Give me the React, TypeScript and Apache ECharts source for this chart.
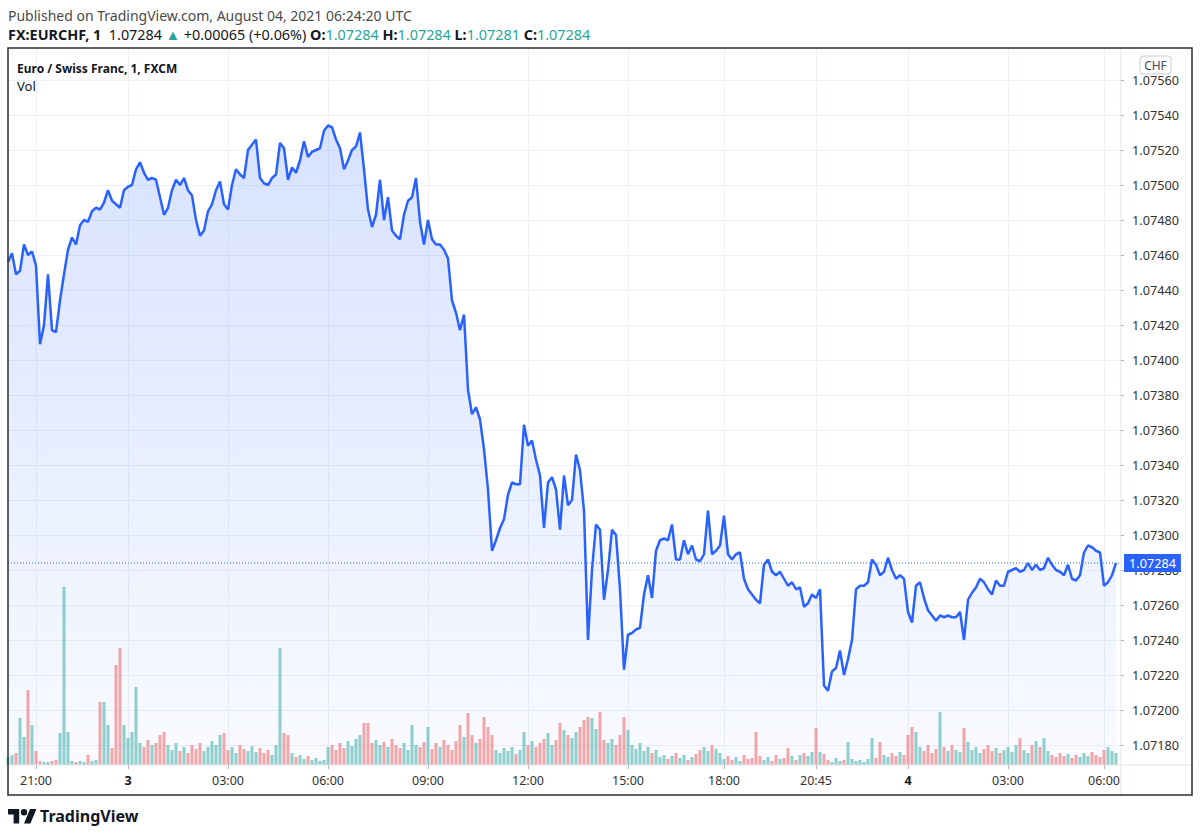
import React, { useEffect, useRef } from 'react';
import * as echarts from 'echarts';

// EUR/CHF 1-minute closes, sampled along the chart (oldest -> newest)
const prices = [
  1.07456, 1.07461, 1.07449, 1.07451, 1.07466, 1.07460, 1.07462, 1.07454, 1.07409, 1.07420,
  1.07449, 1.07417, 1.07416, 1.07434, 1.07449, 1.07463, 1.07470, 1.07466, 1.07477, 1.07480,
  1.07479, 1.07485, 1.07487, 1.07486, 1.07490, 1.07497, 1.07491, 1.07489, 1.07487, 1.07497,
  1.07499, 1.07500, 1.07509, 1.07513, 1.07507, 1.07503, 1.07504, 1.07503, 1.07493, 1.07483,
  1.07487, 1.07497, 1.07503, 1.07500, 1.07504, 1.07497, 1.07494, 1.07480, 1.07471, 1.07474,
  1.07485, 1.07489, 1.07497, 1.07502, 1.07489, 1.07486, 1.07500, 1.07509, 1.07506, 1.07504,
  1.07520, 1.07523, 1.07526, 1.07504, 1.07501, 1.07500, 1.07504, 1.07506, 1.07524, 1.07521,
  1.07503, 1.07510, 1.07507, 1.07514, 1.07525, 1.07516, 1.07519, 1.07520, 1.07521, 1.07531,
  1.07534, 1.07533, 1.07526, 1.07521, 1.07509, 1.07514, 1.07520, 1.07522, 1.07530, 1.07509,
  1.07486, 1.07476, 1.07483, 1.07503, 1.07480, 1.07493, 1.07474, 1.07471, 1.07469, 1.07483,
  1.07491, 1.07493, 1.07504, 1.07479, 1.07466, 1.07480, 1.07469, 1.07466, 1.07466, 1.07463,
  1.07458, 1.07434, 1.07427, 1.07417, 1.07426, 1.07383, 1.07369, 1.07373, 1.07366, 1.07349,
  1.07326, 1.07291, 1.07297, 1.07304, 1.07309, 1.07323, 1.07330, 1.07329, 1.07329, 1.07363,
  1.07351, 1.07354, 1.07343, 1.07334, 1.07304, 1.07330, 1.07333, 1.07326, 1.07303, 1.07334,
  1.07317, 1.07320, 1.07346, 1.07337, 1.07314, 1.07240, 1.07280, 1.07306, 1.07303, 1.07263,
  1.07280, 1.07303, 1.07300, 1.07269, 1.07223, 1.07243, 1.07244, 1.07246, 1.07247, 1.07266,
  1.07277, 1.07264, 1.07291, 1.07297, 1.07298, 1.07297, 1.07306, 1.07286, 1.07286, 1.07297,
  1.07289, 1.07294, 1.07286, 1.07285, 1.07289, 1.07314, 1.07289, 1.07291, 1.07294, 1.07311,
  1.07289, 1.07286, 1.07289, 1.07290, 1.07275, 1.07269, 1.07266, 1.07263, 1.07261, 1.07283,
  1.07286, 1.07279, 1.07277, 1.07279, 1.07275, 1.07271, 1.07273, 1.07269, 1.07270, 1.07259,
  1.07261, 1.07266, 1.07264, 1.07269, 1.07214, 1.07211, 1.07222, 1.07224, 1.07234, 1.07220,
  1.07229, 1.07240, 1.07269, 1.07271, 1.07271, 1.07273, 1.07286, 1.07283, 1.07277, 1.07279,
  1.07287, 1.07280, 1.07275, 1.07277, 1.07275, 1.07256, 1.07250, 1.07271, 1.07273, 1.07264,
  1.07257, 1.07254, 1.07251, 1.07254, 1.07253, 1.07254, 1.07253, 1.07253, 1.07256, 1.07240,
  1.07263, 1.07267, 1.07270, 1.07275, 1.07273, 1.07269, 1.07266, 1.07274, 1.07271, 1.07271,
  1.07279, 1.07280, 1.07281, 1.07279, 1.07280, 1.07284, 1.07280, 1.07283, 1.07280, 1.07281,
  1.07287, 1.07283, 1.07280, 1.07279, 1.07277, 1.07283, 1.07275, 1.07274, 1.07277, 1.07290,
  1.07294, 1.07293, 1.07291, 1.07290, 1.07271, 1.07273, 1.07277, 1.07284,
];

// Volume (relative units), one per sampled price point
const volumes = [
  8, 10, 12, 47, 28, 75, 40, 14, 4, 3,
  3, 4, 5, 32, 178, 33, 4, 3, 4, 3,
  10, 4, 5, 63, 63, 40, 17, 100, 117, 40,
  27, 33, 78, 22, 18, 25, 20, 22, 30, 33,
  20, 15, 22, 14, 18, 12, 20, 16, 22, 14,
  18, 24, 20, 30, 32, 15, 18, 12, 20, 16,
  14, 19, 13, 17, 12, 15, 10, 20, 117, 32,
  30, 12, 8, 10, 6, 9, 5, 7, 4, 5,
  18, 20, 15, 22, 17, 24, 19, 26, 30, 42,
  42, 22, 25, 20, 23, 18, 26, 20, 17, 22,
  15, 40, 20, 18, 23, 38, 16, 22, 18, 25,
  20, 15, 24, 40, 28, 52, 30, 22, 26, 48,
  38, 30, 15, 12, 17, 14, 18, 11, 15, 33,
  20, 24, 18, 22, 26, 32, 20, 25, 42, 35,
  30, 27, 33, 38, 45, 48, 47, 36, 53, 25,
  22, 26, 20, 30, 48, 35, 20, 16, 22, 14,
  18, 12, 15, 8, 10, 6, 9, 12, 7, 10,
  5, 8, 11, 15, 18, 14, 20, 16, 12, 6,
  9, 5, 8, 4, 10, 6, 7, 33, 9, 5,
  8, 4, 10, 6, 7, 17, 9, 5, 10, 12,
  9, 13, 37, 13, 11, 5, 3, 7, 4, 5,
  23, 6, 4, 5, 3, 6, 27, 7, 23, 10,
  8, 12, 9, 13, 10, 30, 38, 33, 18, 14,
  20, 12, 16, 53, 18, 14, 20, 15, 13, 37,
  23, 15, 18, 12, 16, 20, 14, 17, 12, 15,
  18, 13, 20, 27, 15, 12, 20, 24, 18, 27,
  14, 10, 8, 12, 9, 11, 7, 10, 8, 12,
  9, 13, 10, 8, 15, 18, 14, 12,
];

// Time axis ticks: sample index -> label
const tickIndex = [7, 30, 55, 80, 105, 130, 155, 179, 202, 225, 250, 274];
const tickLabels = ['21:00', '3', '03:00', '06:00', '09:00', '12:00', '15:00', '18:00', '20:45', '4', '03:00', '06:00'];

// Price scale ticks
const yTicks = [
  1.0718, 1.0720, 1.0722, 1.0724, 1.0726, 1.0728, 1.0730, 1.0732, 1.0734, 1.0736,
  1.0738, 1.0740, 1.0742, 1.0744, 1.0746, 1.0748, 1.0750, 1.0752, 1.0754, 1.0756,
];
const yMin = 1.0716857;
const yMax = 1.0757829;
const volumeMax = 180;

const lastPrice = 1.07284;
const publishedText = 'Published on TradingView.com, August 04, 2021 06:24:20 UTC';
const symbolTitle = 'Euro / Swiss Franc, 1, FXCM';

const TV_LOGO = 'M14 22H7V11H0V4h14v18zM28 22h-8l7.5-18h8L28 22zM16 8a4 4 0 1 0 8 0a4 4 0 1 0 -8 0z';
let logoRegistered = false;
function registerLogo() {
  if (logoRegistered) return;
  echarts.graphic.registerShape('tvlogo', echarts.graphic.extendPath(TV_LOGO, {}));
  logoRegistered = true;
}

const FONT = "'Noto Sans', 'Open Sans', sans-serif";
const TEXT = '#131722';
const TEAL = '#26a69a';

export default function App() {
  const ref = useRef<HTMLDivElement>(null);

  useEffect(() => {
    if (!ref.current) return;
    registerLogo();
    const chart = echarts.init(ref.current, undefined, { renderer: 'svg' });

    const N = prices.length + 1;
    const categories = Array.from({ length: N }, (_, i) => String(i));
    const labelAt = new Map<number, string>(tickIndex.map((idx, k) => [idx, tickLabels[k]]));
    const isTick = (i: number) => labelAt.has(i);
    const lastPriceLine = categories.map(() => lastPrice);

    const volumeData = volumes.map((v, i) => ({
      value: v,
      itemStyle: {
        color: i > 0 && prices[i] < prices[i - 1] ? 'rgba(239,83,80,0.5)' : 'rgba(38,166,154,0.5)',
      },
    }));

    const option: any = {
      animation: false,
      backgroundColor: '#ffffff',
      textStyle: { fontFamily: FONT },
      grid: [
        { left: 8, top: 48, width: 1112, height: 717 },
        { left: 8, top: 585, width: 1112, height: volumeMax },
      ],
      xAxis: [
        {
          type: 'category',
          gridIndex: 0,
          data: categories,
          boundaryGap: false,
          axisLine: { show: false },
          axisTick: { show: true, interval: (i: number) => isTick(i), length: 4, lineStyle: { color: '#b2b5be' } },
          axisLabel: {
            interval: (i: number) => isTick(i),
            margin: 9,
            fontSize: 12.5,
            fontFamily: FONT,
            color: '#333',
            formatter: (v: string) => {
              const t = labelAt.get(Number(v)) || '';
              return t.indexOf(':') < 0 && t ? `{d|${t}}` : t;
            },
            rich: { d: { fontWeight: 'bold', fontSize: 12.5, fontFamily: FONT, color: TEXT } },
          },
          splitLine: { show: true, interval: (i: number) => isTick(i), lineStyle: { color: '#eef0f4', width: 1 } },
        },
        {
          type: 'category',
          gridIndex: 1,
          data: categories,
          boundaryGap: false,
          show: false,
        },
      ],
      yAxis: [
        {
          type: 'value',
          gridIndex: 0,
          position: 'right',
          min: yMin,
          max: yMax,
          axisLine: { show: false },
          axisTick: { show: true, customValues: yTicks, length: 4, lineStyle: { color: '#b2b5be' } },
          axisLabel: {
            customValues: yTicks,
            formatter: (v: number) => v.toFixed(5),
            margin: 12,
            fontSize: 12.7,
            fontFamily: FONT,
            color: '#333',
          },
          splitLine: { show: true, lineStyle: { color: '#eef0f4', width: 1 } },
        },
        { type: 'value', gridIndex: 1, min: 0, max: volumeMax, show: false },
      ],
      series: [
        {
          type: 'line',
          xAxisIndex: 0,
          yAxisIndex: 0,
          data: prices,
          symbol: 'none',
          z: 3,
          lineStyle: { color: '#2962FF', width: 2.5 },
          areaStyle: {
            color: new echarts.graphic.LinearGradient(0, 0, 0, 1, [
              { offset: 0, color: 'rgba(41,98,255,0.26)' },
              { offset: 1, color: 'rgba(41,98,255,0.04)' },
            ]),
          },
        },
        {
          type: 'line',
          name: 'last',
          xAxisIndex: 0,
          yAxisIndex: 0,
          data: lastPriceLine,
          symbol: 'none',
          silent: true,
          z: 4,
          lineStyle: { color: '#2962FF', type: [1, 2], width: 1 },
          endLabel: {
            show: true,
            distance: 4,
            formatter: () => lastPrice.toFixed(5),
            backgroundColor: '#2962FF',
            color: '#ffffff',
            padding: [3, 5, 2, 5],
            fontSize: 12.7,
            fontFamily: FONT,
          },
        },
        {
          type: 'bar',
          xAxisIndex: 1,
          yAxisIndex: 1,
          data: volumeData,
          barWidth: 3,
          z: 2,
        },
      ],
      graphic: [
        {
          type: 'text',
          x: 8,
          y: 15,
          z: 100,
          style: { text: publishedText, fontSize: 14, fontFamily: FONT, fill: '#4a4a4a', verticalAlign: 'middle' },
        },
        {
          type: 'text',
          x: 8,
          y: 34,
          z: 100,
          style: {
            text:
              '{b|FX:EURCHF, 1}{n|  1.07284 }{g|▲}{n| +0.00065 (+0.06%) }{b|O:}{g|1.07284 }{b|H:}{g|1.07284 }{b|L:}{g|1.07281 }{b|C:}{g|1.07284}',
            fontSize: 14.4,
            fontFamily: FONT,
            fill: TEXT,
            verticalAlign: 'middle',
            rich: {
              b: { fontWeight: 'bold', fontSize: 14.4, fontFamily: FONT, fill: TEXT },
              n: { fontSize: 14.4, fontFamily: FONT, fill: TEXT },
              g: { fontSize: 14.4, fontFamily: FONT, fill: TEAL },
            },
          },
        },
        {
          type: 'text',
          x: 17,
          y: 68,
          z: 100,
          style: { text: symbolTitle, fontSize: 12, fontWeight: 'bold', fontFamily: FONT, fill: TEXT, verticalAlign: 'middle' },
        },
        {
          type: 'text',
          x: 17,
          y: 86,
          z: 100,
          style: { text: 'Vol', fontSize: 13, fontFamily: FONT, fill: TEXT, verticalAlign: 'middle' },
        },
        {
          type: 'line',
          z: 90,
          shape: { x1: 1121, y1: 48, x2: 1121, y2: 795 },
          style: { stroke: '#e0e3eb', lineWidth: 1 },
        },
        {
          type: 'line',
          z: 90,
          shape: { x1: 8, y1: 765, x2: 1192, y2: 765 },
          style: { stroke: '#e0e3eb', lineWidth: 1 },
        },
        {
          type: 'rect',
          z: 100,
          shape: { x: 8, y: 48, width: 1184, height: 747 },
          style: { fill: 'none', stroke: '#2a2e39', lineWidth: 1.5 },
        },
        {
          type: 'rect',
          z: 100,
          shape: { x: 1140, y: 56, width: 31, height: 18, r: 3 },
          style: { fill: '#ffffff', stroke: '#c9ccd3', lineWidth: 1 },
        },
        {
          type: 'text',
          x: 1155.5,
          y: 65,
          z: 101,
          style: { text: 'CHF', fontSize: 12, fontFamily: FONT, fill: '#4a4a4a', align: 'center', verticalAlign: 'middle' },
        },
        {
          type: 'tvlogo',
          x: 8,
          y: 805.8,
          scaleX: 0.8,
          scaleY: 0.8,
          z: 100,
          style: { fill: TEXT },
        },
        {
          type: 'text',
          x: 40,
          y: 816,
          z: 100,
          style: { text: 'TradingView', fontSize: 16, fontWeight: 'bold', fontFamily: FONT, fill: TEXT, verticalAlign: 'middle' },
        },
      ],
    };

    chart.setOption(option);
    return () => chart.dispose();
  }, []);

  return <div ref={ref} style={{ position: 'fixed', left: 0, top: 0, width: 1200, height: 837 }} />;
}
